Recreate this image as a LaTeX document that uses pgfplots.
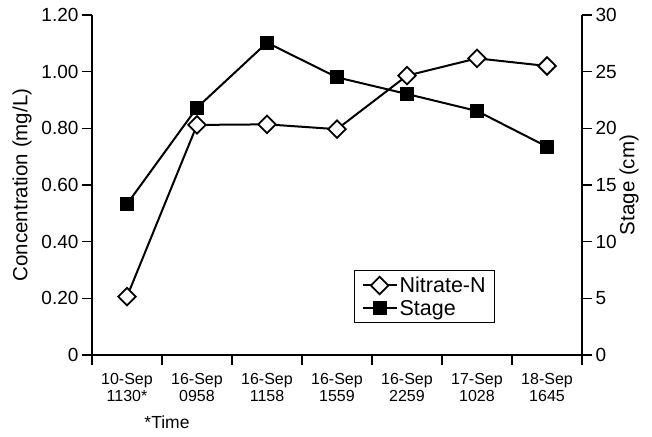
\documentclass[border=0pt]{standalone}
\usepackage{fontspec}
\setmainfont{Liberation Sans}
\usepackage{pgfplots}
\pgfplotsset{compat=1.18}
\begin{document}
\begin{tikzpicture}[x=1pt,y=1pt]
\path[use as bounding box] (-92,-81) rectangle (560,355);
\pgfplotsset{
  common/.style={
    at={(0,0)}, anchor=south west, scale only axis,
    width=490pt, height=340pt,
    xmin=0, xmax=7,
    axis line style={line width=1.8pt},
    tick style={line width=1.4pt, black},
    tick align=outside,
    major tick length=10pt,
    /pgf/number format/assume math mode=true,
    every y tick label/.style={font=\fontsize{19}{20}\selectfont},
    every axis label/.append style={font=\fontsize{20.5}{22}\selectfont},
  },
  nitrate/.style={black, line width=2pt, mark=square*, mark size=6.2pt,
    mark options={rotate=45, fill=white, line width=1.8pt}},
  stage/.style={black, line width=2pt, mark=square*, mark size=6.5pt,
    mark options={fill=black, line width=0pt}},
}
\begin{axis}[common,
  ymin=0, ymax=1.2,
  axis x line*=bottom, axis y line*=left,
  ytick={0,0.2,0.4,0.6,0.8,1.0,1.2},
  yticklabels={0,0.20,0.40,0.60,0.80,1.00,1.20},
  ylabel={Concentration (mg/L)},
  ylabel style={at={(rel axis cs:0,0.5)}, anchor=center, yshift=70pt},
  xtick={0.5,1.5,2.5,3.5,4.5,5.5,6.5},
  xticklabels={{10-Sep\\1130*},{16-Sep\\0958},{16-Sep\\1158},{16-Sep\\1559},{16-Sep\\2259},{17-Sep\\1028},{18-Sep\\1645}},
  every x tick label/.style={align=center, font=\fontsize{16}{17}\selectfont, yshift=-5pt},
  major x tick style={draw=none},
  minor xtick={0,1,2,3,4,5,6,7},
  minor tick length=10pt,
  minor tick style={line width=1.4pt, black},
  clip=false,
]
\addplot[nitrate] coordinates {(0.5,0.206) (1.5,0.812) (2.5,0.814) (3.5,0.797) (4.5,0.986) (5.5,1.047) (6.5,1.020)};
\node[font=\fontsize{17.5}{18}\selectfont] at (rel axis cs:0.153,-0.197) {*Time};
\end{axis}
\begin{axis}[common,
  ymin=0, ymax=30,
  axis x line=none, axis y line*=right,
  ytick={0,5,10,15,20,25,30},
  ylabel={Stage (cm)},
  ylabel style={at={(rel axis cs:1,0.5)}, anchor=center, yshift=-47pt},
  legend style={at={(rel axis cs:0.535,0.094)}, anchor=south west,
    draw=black, line width=1pt, font=\fontsize{21.5}{23}\selectfont,
    inner xsep=7pt, inner ysep=4pt, row sep=2pt},
  legend image code/.code={%
    \draw[mark repeat=2, mark phase=2, #1] plot coordinates {(0pt,0pt) (17pt,0pt) (34pt,0pt)};},
  legend cell align=left,
  clip=false,
]
\addlegendimage{nitrate}
\addlegendentry{Nitrate-N}
\addplot[stage] coordinates {(0.5,13.32) (1.5,21.82) (2.5,27.56) (3.5,24.5) (4.5,23.03) (5.5,21.53) (6.5,18.38)};
\addlegendentry{Stage}
\end{axis}
\end{tikzpicture}
\end{document}
